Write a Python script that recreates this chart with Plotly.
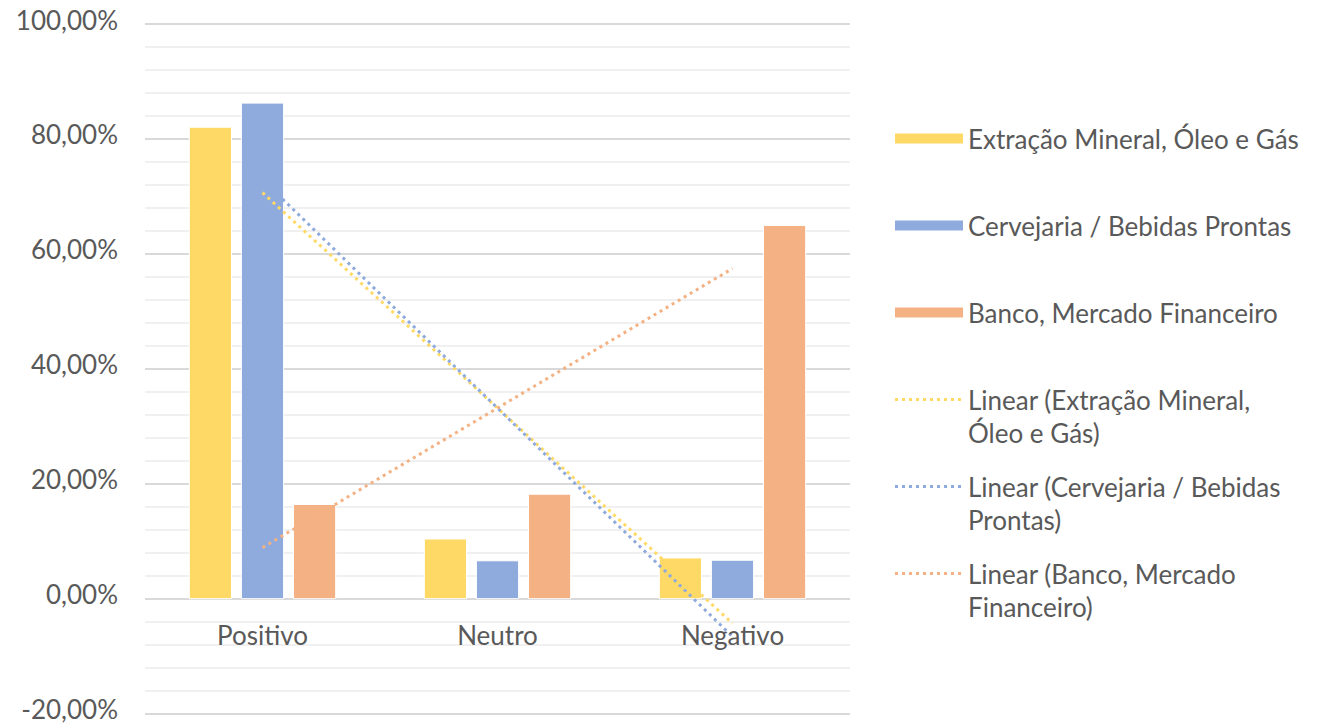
import numpy as np
import plotly.graph_objects as go

categories = ["Positivo", "Neutro", "Negativo"]
series_names = ["Extração Mineral, Óleo e Gás", "Cervejaria / Bebidas Prontas", "Banco, Mercado Financeiro"]
extracao = [0.821, 0.104, 0.071]
cervejaria = [0.863, 0.066, 0.067]
banco = [0.164, 0.182, 0.650]
trend_names = ["Linear (Extração Mineral,<br>Óleo e Gás)",
               "Linear (Cervejaria / Bebidas<br>Prontas)",
               "Linear (Banco, Mercado<br>Financeiro)"]
y_tick_values = [-0.2, 0.0, 0.2, 0.4, 0.6, 0.8, 1.0]
y_tick_labels = ["-20,00%", "0,00%", "20,00%", "40,00%", "60,00%", "80,00%", "100,00%"]
colors = ["#FFD966", "#8FAADC", "#F4B183"]

FONT = "Lato"
TXT = "#595959"
FS = 26

fig = go.Figure()
all_series = [extracao, cervejaria, banco]
for i, (name, vals) in enumerate(zip(series_names, all_series)):
    fig.add_trace(go.Bar(x=categories, y=vals, name=name,
                         marker=dict(color=colors[i], line=dict(color="white", width=1)),
                         showlegend=False))

# legend proxies for bars (wide rectangles like the original)
for i, name in enumerate(series_names):
    fig.add_trace(go.Scatter(x=[None], y=[None], mode="lines", name=name,
                             line=dict(color=colors[i], width=17),
                             legend="legend" if i == 0 else f"legend{i+1}"))

# linear trendlines computed from the data
xs = np.arange(1, len(categories) + 1)
for i, vals in enumerate(all_series):
    slope, intercept = np.polyfit(xs, vals, 1)
    fit = slope * xs + intercept
    fig.add_trace(go.Scatter(x=categories, y=fit, mode="lines", name=trend_names[i],
                             line=dict(color=colors[i], width=3, dash="3px,4px"),
                             legend=f"legend{i+4}"))

# plot area (range padded a little so edge gridlines show)
Y0, Y1 = -0.206, 1.006
top_px, bot_px = 21, 717
h_px = bot_px - top_px

centers = [136, 223, 310, 397, 484, 571]
leg = {}
for k, c in enumerate(centers):
    key = "legend" if k == 0 else f"legend{k+1}"
    leg[key] = dict(x=(890 - 145) / 705, xanchor="left", y=(bot_px - (c - 21)) / h_px, yanchor="top",
                    font=dict(family=FONT, size=FS, color=TXT), itemwidth=68, valign="top",
                    bgcolor="rgba(0,0,0,0)")

fig.update_layout(
    width=1320, height=726,
    margin=dict(l=145, r=470, t=top_px, b=726 - bot_px, autoexpand=False),
    paper_bgcolor="white", plot_bgcolor="white",
    barmode="group", bargap=0.335, bargroupgap=0.19,
    font=dict(family=FONT, size=FS, color=TXT),
    xaxis=dict(type="category", anchor="free", position=(0 - Y0) / (Y1 - Y0), showline=False, ticks="",
               showgrid=False, ticklabelstandoff=19, automargin=False, tickfont=dict(size=FS, color=TXT)),
    yaxis=dict(range=[Y0, Y1], tickmode="array", tickvals=y_tick_values, ticktext=y_tick_labels,
               showgrid=True, automargin=False,
               gridcolor="#d9d9d9", gridwidth=1.5, zeroline=True, zerolinecolor="#d9d9d9",
               zerolinewidth=1.5, ticks="", ticklabelstandoff=26, ticklabelshift=-4,
               ticklabeloverflow="allow", tickfont=dict(size=FS, color=TXT),
               minor=dict(tickmode="linear", dtick=0.04, tick0=0, showgrid=True, gridcolor="#f0f0f0", gridwidth=1.5)),
    **leg,
)

fig.write_html("out.html")
